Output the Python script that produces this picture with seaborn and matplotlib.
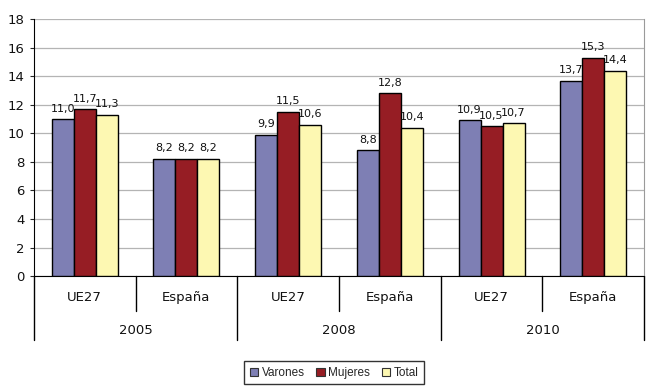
import pandas as pd
import matplotlib.pyplot as plt
import seaborn as sns

# data
years = ["2005", "2008", "2010"]
regions = ["UE27", "España"]
series = ["Varones", "Mujeres", "Total"]
varones = [11.0, 8.2, 9.9, 8.8, 10.9, 13.7]
mujeres = [11.7, 8.2, 11.5, 12.8, 10.5, 15.3]
total = [11.3, 8.2, 10.6, 10.4, 10.7, 14.4]
colors = ["#7e7fb4", "#961d24", "#fdf8b2"]

groups = [f"{y}|{r}" for y in years for r in regions]

rows = []
for name, vals in zip(series, [varones, mujeres, total]):
    for g, v in zip(groups, vals):
        rows.append({"grupo": g, "serie": name, "valor": v})
df = pd.DataFrame(rows)

sns.set_style("white")
plt.rcParams["font.family"] = ["DejaVu Sans"]

fig = plt.figure(figsize=(6.5, 3.9), dpi=100)
ax = fig.add_axes([0.052, 0.292, 0.939, 0.659])

sns.barplot(
    data=df, x="grupo", y="valor", hue="serie",
    order=groups, hue_order=series, palette=colors, saturation=1,
    width=0.65, edgecolor="black", linewidth=1.0,
    errorbar=None, ax=ax, zorder=3
)

for cont, vals in zip(ax.containers, [varones, mujeres, total]):
    ax.bar_label(
        cont,
        labels=[f"{v:.1f}".replace(".", ",") for v in vals],
        padding=4, fontsize=8, color="#111111"
    )

ax.set_ylim(0, 18)
ax.set_yticks(range(0, 19, 2))
ax.tick_params(axis="y", labelsize=9.5, length=3, direction="out", left=True,
               labelcolor="#111111")
ax.yaxis.grid(True, color="#b4b4b4", linewidth=0.9, zorder=0)
ax.set_xlim(-0.5, 5.5)
ax.set_xticks([])
ax.set_xlabel("")
ax.set_ylabel("")

ax.spines["top"].set_visible(False)
ax.spines["right"].set_color("#9a9a9a")
ax.spines["left"].set_color("black")
ax.spines["bottom"].set_color("black")

# two-level category axis
trans = ax.get_xaxis_transform()
for i, g in enumerate(groups):
    ax.text(i, -0.085, g.split("|")[1], transform=trans,
            ha="center", va="center", fontsize=9.5, color="#111111")
for i, y in enumerate(years):
    ax.text(2 * i + 0.5, -0.21, y, transform=trans,
            ha="center", va="center", fontsize=9.5, color="#111111")
for x in [0.5, 2.5, 4.5]:
    ax.plot([x, x], [0, -0.135], transform=trans, color="black",
            linewidth=1.0, clip_on=False)
for x in [-0.5, 1.5, 3.5, 5.5]:
    ax.plot([x, x], [0, -0.25], transform=trans, color="black",
            linewidth=1.0, clip_on=False)

ax.legend_.remove()
handles = [plt.Rectangle((0, 0), 1, 1, facecolor=c, edgecolor="#333333",
                         linewidth=0.8) for c in colors]
leg = fig.legend(
    handles, series, loc="lower center", bbox_to_anchor=(0.514, 0.0),
    ncol=3, frameon=True, fancybox=False,
    handlelength=0.7, handleheight=0.7, handletextpad=0.3,
    columnspacing=1.0, borderpad=0.45,
    prop={"family": "Liberation Sans", "size": 8.5}
)
leg.get_frame().set_edgecolor("black")
leg.get_frame().set_linewidth(1.0)

fig.savefig("out.png", dpi=100)
plt.close(fig)
